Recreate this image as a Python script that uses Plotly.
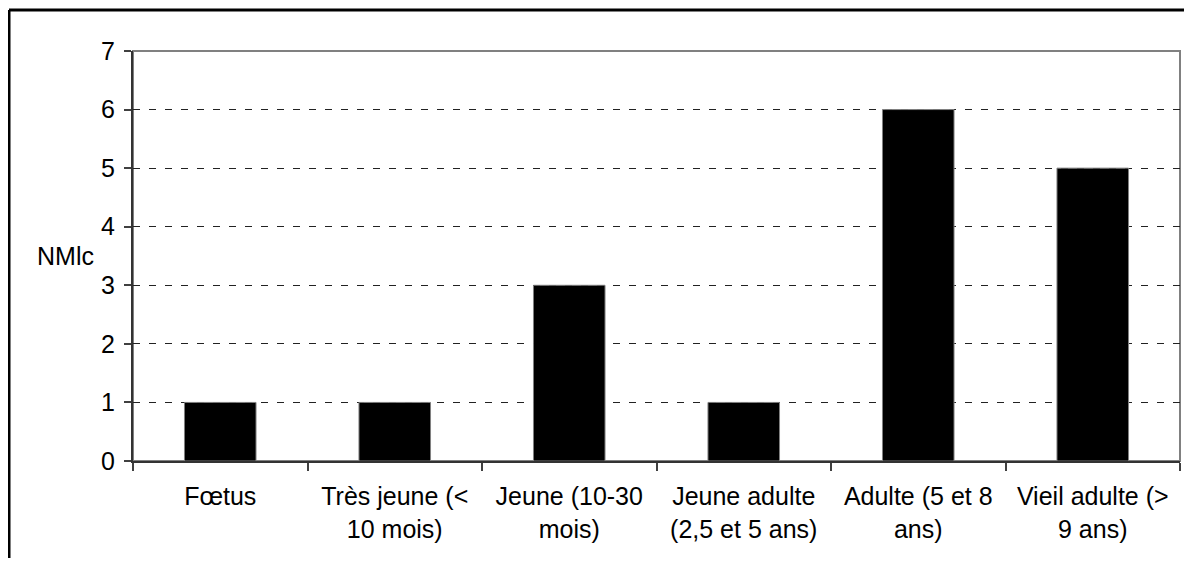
import plotly.graph_objects as go

categories = ["Fœtus", "Très jeune (<<br>10 mois)", "Jeune (10-30<br>mois)",
              "Jeune adulte<br>(2,5 et 5 ans)", "Adulte (5 et 8<br>ans)", "Vieil adulte (><br>9 ans)"]
values = [1, 1, 3, 1, 6, 5]
y_ticks = [0, 1, 2, 3, 4, 5, 6, 7]
y_title = "NMlc"

# page body has an 8px margin; the figure is sized so that the whole page is 1192x566
OFF = 8
W, H = 1192 - 2 * OFF, 566 - 2 * OFF
L = 133 - OFF
T = 51 - OFF
R = W - (1180 - OFF)
B = H - (461 - OFF)
pw, ph = W - L - R, H - T - B

def px(x):
    return (x - OFF - L) / pw

def py(y):
    return (H - B - (y - OFF)) / ph

FONT = dict(family="Liberation Sans, Arial, sans-serif", size=25, color="black")

fig = go.Figure()
fig.add_trace(go.Bar(
    x=categories, y=values,
    marker=dict(color="black", line=dict(color="#808080", width=1)),
    hoverinfo="skip",
))

fig.update_layout(
    width=W, height=H,
    margin=dict(l=L, r=R, t=T, b=B, pad=0),
    paper_bgcolor="white", plot_bgcolor="white",
    showlegend=False,
    bargap=0.59,
    font=FONT,
    xaxis=dict(
        type="category", tickson="boundaries",
        ticks="outside", ticklen=8, tickwidth=2, tickcolor="#404040",
        showline=True, linecolor="#333333", linewidth=2,
        showgrid=False, tickfont=FONT, tickangle=0, ticklabelstandoff=12,
        range=[-0.5, len(categories) - 0.5],
    ),
    yaxis=dict(
        range=[0, 7], tickvals=y_ticks, ticktext=[str(v) for v in y_ticks],
        ticks="outside", ticklen=7, tickwidth=2, tickcolor="#404040",
        showline=True, linecolor="#333333", linewidth=2,
        showgrid=True, gridcolor="#222222", gridwidth=1, griddash="7px,9px",
        zeroline=False, tickfont=FONT, ticklabelstandoff=4,
    ),
    shapes=[
        dict(type="rect", xref="paper", yref="paper", x0=0, x1=1, y0=0, y1=1,
             line=dict(color="#808080", width=2), layer="below"),
        dict(type="line", xref="paper", yref="paper", x0=px(9), x1=px(1200), y0=py(10), y1=py(10),
             line=dict(color="black", width=3)),
        dict(type="line", xref="paper", yref="paper", x0=px(9), x1=px(9), y0=py(10), y1=py(580),
             line=dict(color="black", width=3)),
    ],
    annotations=[
        dict(text=y_title, xref="paper", yref="y", x=px(65), y=3.5,
             xanchor="center", yanchor="middle", showarrow=False, font=FONT),
    ],
)

fig.write_html("out.html")
